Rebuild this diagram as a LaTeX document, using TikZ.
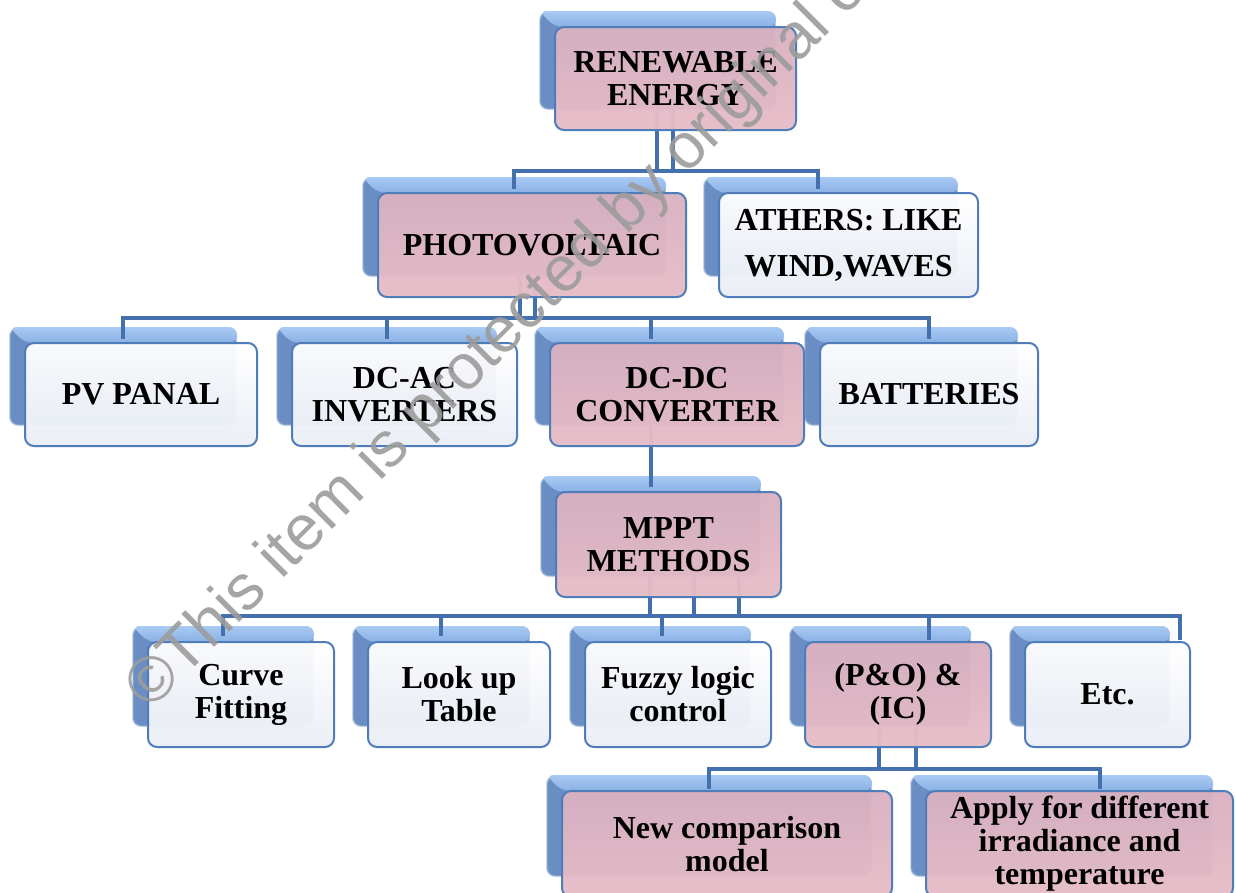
\documentclass[tikz,border=0pt]{standalone}
\usepackage{fontspec}
\setmainfont{Liberation Serif}
\newfontfamily\wmfont{Liberation Sans}
\usetikzlibrary{calc}
\definecolor{lineblue}{HTML}{4570AE}
\definecolor{bordblue}{HTML}{4E7DBA}
\definecolor{pinktop}{HTML}{D9B1C0}
\definecolor{pinkbot}{HTML}{E7BDC7}
\definecolor{whtop}{HTML}{FFFFFF}
\definecolor{whbot}{HTML}{EBEEF6}
\definecolor{shtop}{HTML}{A8CAF3}
\definecolor{shbot}{HTML}{8AB0E4}
\definecolor{shleft}{HTML}{6A8EC3}
\definecolor{wmgray}{HTML}{9C9C9C}
\pgfdeclarelayer{bg}
\pgfdeclarelayer{shad}
\pgfdeclarelayer{front}
\pgfdeclarelayer{wm}
\pgfsetlayers{bg,shad,main,front,wm}
\tikzset{
  shadowbox/.style={rectangle, rounded corners=8pt, inner sep=0pt, fill=shleft, draw=shleft!70, draw opacity=.5, line width=2pt},
  card/.style={rectangle, rounded corners=9pt, draw=bordblue, line width=2pt, inner sep=0pt, align=center,
    font=\fontsize{32}{33}\selectfont\bfseries, fill opacity=.96, text opacity=1},
  pinkcard/.style={card, top color=pinktop, bottom color=pinkbot},
  whitecard/.style={card, top color=whtop, bottom color=whbot},
  conn/.style={draw=lineblue, line width=4pt},
}
\newcommand\tbox[7]{%
  \begin{pgfonlayer}{shad}
    \node[shadowbox, minimum width={(#4-#2-6)*1pt}, minimum height={(#5-#3-6)*1pt}] (#1S) at ({(#2+#4)/2-18},{(#3+#5)/2-18}) {};
    \shade[top color=shtop, bottom color=shbot, rounded corners=8pt] (#1S.north west) -- (#1S.north east) -- ([yshift=-16pt]#1S.north east) -- ([xshift=16pt,yshift=-16pt]#1S.north west) -- cycle;
  \end{pgfonlayer}
  \begin{pgfonlayer}{front}
    \node[#6, minimum width={(#4-#2)*1pt}, minimum height={(#5-#3)*1pt}] (#1) at ({(#2+#4)/2},{(#3+#5)/2}) {#7};
  \end{pgfonlayer}}
\begin{document}
\begin{tikzpicture}[x=1pt,y=-1pt]
\useasboundingbox (0,0) rectangle (1236,892);
\begin{pgfonlayer}{bg}
  \fill[white] (0,0) rectangle (1236,892);
\end{pgfonlayer}
\tbox{re}{555}{27}{796}{130}{pinkcard}{RENEWABLE\\ENERGY}
\tbox{pv}{378}{193}{686}{297}{pinkcard}{PHOTOVOLTAIC}
\tbox{ot}{719}{193}{978}{297}{whitecard}{ATHERS: LIKE\\[13pt]WIND,WAVES}
\tbox{pan}{25}{343}{257}{446}{whitecard}{PV PANAL}
\tbox{dcac}{292}{343}{517}{446}{whitecard}{DC-AC\\INVERTERS}
\tbox{dcdc}{550}{343}{804}{446}{pinkcard}{DC-DC\\CONVERTER}
\tbox{bat}{820}{343}{1038}{446}{whitecard}{BATTERIES}
\tbox{mppt}{556}{492}{781}{597}{pinkcard}{MPPT\\METHODS}
\tbox{cf}{148}{642}{334}{747}{whitecard}{Curve\\Fitting}
\tbox{lut}{368}{642}{550}{747}{whitecard}{Look up\\Table}
\tbox{flc}{585}{642}{771}{747}{whitecard}{Fuzzy logic\\control}
\tbox{po}{805}{642}{991}{747}{pinkcard}{(P\&O) \&\\(IC)}
\tbox{etc}{1025}{642}{1190}{747}{whitecard}{Etc.}
\tbox{ncm}{562}{791}{892}{897}{pinkcard}{New comparison\\model}
\tbox{app}{926}{791}{1233}{897}{pinkcard}{Apply for different\\irradiance and\\temperature}
% RE -> row 2
\draw[conn] ([xshift=-0.5pt]reS.south) |- ([xshift=-12.5pt,yshift=6pt]otS.north) -- ([xshift=-12.5pt,yshift=-12pt]otS.north);
\draw[conn] ([xshift=15.5pt]reS.south) |- ([yshift=6pt]pvS.north) -- ([yshift=-12pt]pvS.north);
% PV -> row 3
\draw[conn] ([xshift=6pt]pvS.south) |- ([xshift=18pt,yshift=9pt]batS.north) -- ([xshift=18pt,yshift=-12pt]batS.north);
\draw[conn] ([xshift=21pt]pvS.south) |- ([yshift=9pt]panS.north) -- ([yshift=-12pt]panS.north);
\draw[conn] ([yshift=9pt]dcacS.north) -- ([yshift=-12pt]dcacS.north);
\draw[conn] ([xshift=-8pt,yshift=9pt]dcdcS.north) -- ([xshift=-8pt,yshift=-12pt]dcdcS.north);
% DC-DC -> MPPT
\draw[conn] ([xshift=-8pt]dcdcS.south) -- ([xshift=0.5pt,yshift=-11pt]mpptS.north);
% MPPT -> row 4
\draw[conn] ([xshift=-0.5pt]mpptS.south) |- ([xshift=90.5pt,yshift=10pt]etcS.north) -- ([xshift=90.5pt,yshift=-14pt]etcS.north);
\draw[conn] ([xshift=88.5pt]mpptS.south) |- ([yshift=10pt]cfS.north) -- ([yshift=-10pt]cfS.north);
\draw[conn] ([xshift=43.5pt]mpptS.south) |- ([yshift=10pt]flcS.north);
\draw[conn] ([yshift=10pt]lutS.north) -- ([yshift=-10pt]lutS.north);
\draw[conn] ([xshift=2pt,yshift=10pt]flcS.north) -- ([xshift=2pt,yshift=-10pt]flcS.north);
\draw[conn] ([xshift=49pt,yshift=10pt]poS.north) -- ([xshift=49pt,yshift=-14pt]poS.north);
% P&O -> row 5
\draw[conn] ([xshift=-1pt]poS.south) |- ([xshift=38.5pt,yshift=6pt]appS.north) -- ([xshift=38.5pt,yshift=-14pt]appS.north);
\draw[conn] ([xshift=36pt]poS.south) |- ([yshift=6pt]ncmS.north) -- ([yshift=-14pt]ncmS.north);
% watermark
\begin{pgfonlayer}{wm}
  \node[rotate=45, anchor=base west, inner sep=0pt, text=wmgray, text opacity=.9,
    font=\wmfont\fontsize{64}{64}\selectfont] (wm) at (150,712)
    {©This item is protected by original copyright};
\end{pgfonlayer}
\end{tikzpicture}
\end{document}
